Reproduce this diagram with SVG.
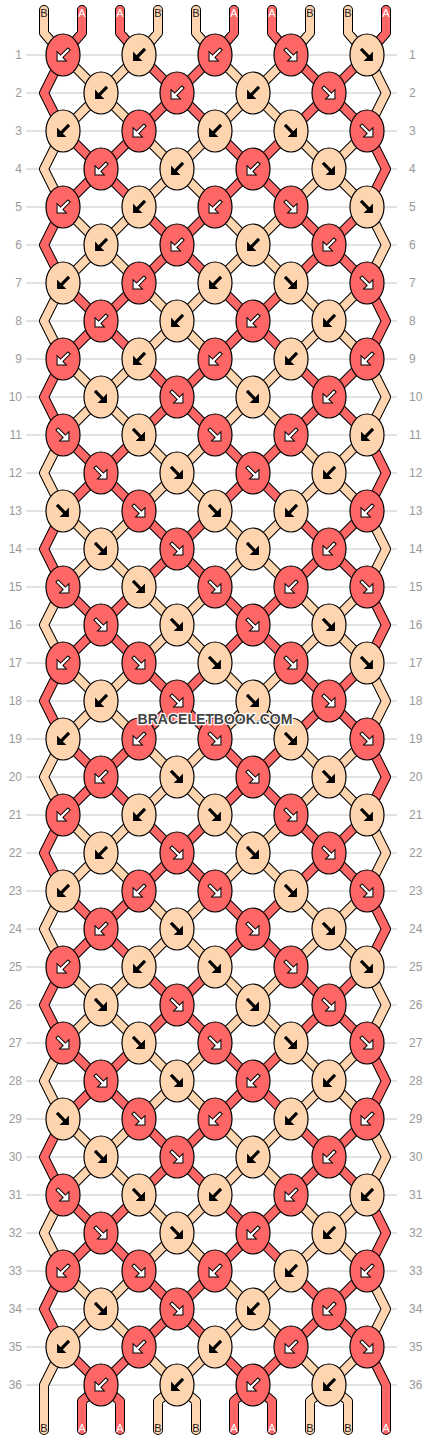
<svg xmlns="http://www.w3.org/2000/svg" xmlns:xlink="http://www.w3.org/1999/xlink" width="430" height="1440" viewBox="0 0 430 1440">
<style>
.gl{fill:none;stroke:#c4c4c4;stroke-width:1}
.rn{font-family:"Liberation Sans",Arial,sans-serif;font-size:12px;fill:#9a9a9a}
.rl{text-anchor:end}
.o{fill:none;stroke:#000;stroke-width:10;stroke-linecap:round;stroke-linejoin:round}
.r{fill:none;stroke:#ff6666;stroke-width:8;stroke-linecap:round;stroke-linejoin:round}
.p{fill:none;stroke:#ffd5b0;stroke-width:8;stroke-linecap:round;stroke-linejoin:round}
.er{fill:#ff6666;stroke:#000;stroke-width:1.2}
.ep{fill:#ffd5b0;stroke:#000;stroke-width:1.2}
.aw{fill:#fff;stroke:#000;stroke-width:1}
.ab{fill:#000;stroke:none}
.sl{font-family:"Liberation Sans",Arial,sans-serif;font-size:11px;text-anchor:middle}
.sb{fill:#222}
.sa{fill:#fff}
.wm{font-family:"Liberation Sans",Arial,sans-serif;font-weight:bold;font-size:14px;text-anchor:middle;fill:#444;stroke:#fff;stroke-width:2.5;paint-order:stroke;stroke-linejoin:round}
</style>
<defs>
<polygon id="a" points="-1.6,-8.5 1.6,-8.5 1.6,1.8 6.6,1.8 0,8.4 -6.6,1.8 -1.6,1.8"/>
<g id="RL"><ellipse class="er" rx="17" ry="21"/><use xlink:href="#a" href="#a" class="aw" transform="rotate(45)"/></g>
<g id="RR"><ellipse class="er" rx="17" ry="21"/><use xlink:href="#a" href="#a" class="aw" transform="rotate(-45)"/></g>
<g id="PL"><ellipse class="ep" rx="17" ry="21"/><use xlink:href="#a" href="#a" class="ab" transform="rotate(45)"/></g>
<g id="PR"><ellipse class="ep" rx="17" ry="21"/><use xlink:href="#a" href="#a" class="ab" transform="rotate(-45)"/></g>
<path id="zA" d="M63,0L44,38L63,76M139,0L177,38L139,76M215,0L177,38L215,76M291,0L329,38L291,76M367,0L329,38L367,76"/>
<path id="zB" d="M63,0L101,38L63,76M139,0L101,38L139,76M215,0L253,38L215,76M291,0L253,38L291,76M367,0L386,38L367,76"/>
<g id="b1"><use href="#zA" class="o"/><use href="#zB" class="o"/><use href="#zA" class="r"/><use href="#zB" class="p"/></g>
<g id="b3"><use href="#zA" class="o"/><use href="#zB" class="o"/><use href="#zA" class="p"/><use href="#zB" class="r"/></g>
</defs>
<rect width="430" height="1440" fill="#fff"/>
<g id="grid">
<path class="gl" d="M26,55H397M26,93H397M26,131H397M26,169H397M26,207H397M26,245H397M26,283H397M26,321H397M26,359H397M26,397H397M26,435H397M26,473H397M26,511H397M26,549H397M26,587H397M26,625H397M26,663H397M26,701H397M26,739H397M26,777H397M26,815H397M26,853H397M26,891H397M26,929H397M26,967H397M26,1005H397M26,1043H397M26,1081H397M26,1119H397M26,1157H397M26,1195H397M26,1233H397M26,1271H397M26,1309H397M26,1347H397M26,1385H397"/>
<g class="rn">
<text class="rl" x="22" y="59">1</text><text x="409" y="59">1</text>
<text class="rl" x="22" y="97">2</text><text x="409" y="97">2</text>
<text class="rl" x="22" y="135">3</text><text x="409" y="135">3</text>
<text class="rl" x="22" y="173">4</text><text x="409" y="173">4</text>
<text class="rl" x="22" y="211">5</text><text x="409" y="211">5</text>
<text class="rl" x="22" y="249">6</text><text x="409" y="249">6</text>
<text class="rl" x="22" y="287">7</text><text x="409" y="287">7</text>
<text class="rl" x="22" y="325">8</text><text x="409" y="325">8</text>
<text class="rl" x="22" y="363">9</text><text x="409" y="363">9</text>
<text class="rl" x="22" y="401">10</text><text x="409" y="401">10</text>
<text class="rl" x="22" y="439">11</text><text x="409" y="439">11</text>
<text class="rl" x="22" y="477">12</text><text x="409" y="477">12</text>
<text class="rl" x="22" y="515">13</text><text x="409" y="515">13</text>
<text class="rl" x="22" y="553">14</text><text x="409" y="553">14</text>
<text class="rl" x="22" y="591">15</text><text x="409" y="591">15</text>
<text class="rl" x="22" y="629">16</text><text x="409" y="629">16</text>
<text class="rl" x="22" y="667">17</text><text x="409" y="667">17</text>
<text class="rl" x="22" y="705">18</text><text x="409" y="705">18</text>
<text class="rl" x="22" y="743">19</text><text x="409" y="743">19</text>
<text class="rl" x="22" y="781">20</text><text x="409" y="781">20</text>
<text class="rl" x="22" y="819">21</text><text x="409" y="819">21</text>
<text class="rl" x="22" y="857">22</text><text x="409" y="857">22</text>
<text class="rl" x="22" y="895">23</text><text x="409" y="895">23</text>
<text class="rl" x="22" y="933">24</text><text x="409" y="933">24</text>
<text class="rl" x="22" y="971">25</text><text x="409" y="971">25</text>
<text class="rl" x="22" y="1009">26</text><text x="409" y="1009">26</text>
<text class="rl" x="22" y="1047">27</text><text x="409" y="1047">27</text>
<text class="rl" x="22" y="1085">28</text><text x="409" y="1085">28</text>
<text class="rl" x="22" y="1123">29</text><text x="409" y="1123">29</text>
<text class="rl" x="22" y="1161">30</text><text x="409" y="1161">30</text>
<text class="rl" x="22" y="1199">31</text><text x="409" y="1199">31</text>
<text class="rl" x="22" y="1237">32</text><text x="409" y="1237">32</text>
<text class="rl" x="22" y="1275">33</text><text x="409" y="1275">33</text>
<text class="rl" x="22" y="1313">34</text><text x="409" y="1313">34</text>
<text class="rl" x="22" y="1351">35</text><text x="409" y="1351">35</text>
<text class="rl" x="22" y="1389">36</text><text x="409" y="1389">36</text>
</g>
</g>
<g id="connectors">
<path class="o" d="M44,10V33L63,55M82,10V33L63,55M120,10V33L139,55M158,10V33L139,55M196,10V33L215,55M234,10V33L215,55M272,10V33L291,55M310,10V33L291,55M348,10V33L367,55M386,10V33L367,55"/>
<path class="p" d="M44,10V33L63,55M158,10V33L139,55M196,10V33L215,55M310,10V33L291,55M348,10V33L367,55"/>
<path class="r" d="M82,10V33L63,55M120,10V33L139,55M234,10V33L215,55M272,10V33L291,55M386,10V33L367,55"/>
<use href="#b1" y="55"/><use href="#b3" y="131"/>
<use href="#b1" y="207"/><use href="#b3" y="283"/>
<use href="#b1" y="359"/><use href="#b3" y="435"/>
<use href="#b1" y="511"/><use href="#b3" y="587"/>
<use href="#b1" y="663"/><use href="#b3" y="739"/>
<use href="#b1" y="815"/><use href="#b3" y="891"/>
<use href="#b1" y="967"/><use href="#b3" y="1043"/>
<use href="#b1" y="1119"/><use href="#b3" y="1195"/>
<use href="#b1" y="1271"/>
<path class="o" d="M63,1347L44,1385V1430M63,1347L101,1385L82,1401V1430M139,1347L101,1385L120,1401V1430M139,1347L177,1385L158,1401V1430M215,1347L177,1385L196,1401V1430M215,1347L253,1385L234,1401V1430M291,1347L253,1385L272,1401V1430M291,1347L329,1385L310,1401V1430M367,1347L329,1385L348,1401V1430M367,1347L386,1385V1430"/>
<path class="p" d="M63,1347L44,1385V1430M139,1347L177,1385L158,1401V1430M215,1347L177,1385L196,1401V1430M291,1347L329,1385L310,1401V1430M367,1347L329,1385L348,1401V1430"/>
<path class="r" d="M63,1347L101,1385L82,1401V1430M139,1347L101,1385L120,1401V1430M215,1347L253,1385L234,1401V1430M291,1347L253,1385L272,1401V1430M367,1347L386,1385V1430"/>
</g>
<g id="string-labels" class="sl">
<text class="sb" x="44" y="17">B</text><text class="sa" x="82" y="17">A</text><text class="sa" x="120" y="17">A</text><text class="sb" x="158" y="17">B</text><text class="sb" x="196" y="17">B</text><text class="sa" x="234" y="17">A</text><text class="sa" x="272" y="17">A</text><text class="sb" x="310" y="17">B</text><text class="sb" x="348" y="17">B</text><text class="sa" x="386" y="17">A</text>
<text class="sb" x="44" y="1432">B</text><text class="sa" x="82" y="1432">A</text><text class="sa" x="120" y="1432">A</text><text class="sb" x="158" y="1432">B</text><text class="sb" x="196" y="1432">B</text><text class="sa" x="234" y="1432">A</text><text class="sa" x="272" y="1432">A</text><text class="sb" x="310" y="1432">B</text><text class="sb" x="348" y="1432">B</text><text class="sa" x="386" y="1432">A</text>
</g>
<g id="nodes">
<g id="n1-1"><use href="#RL" x="63" y="55"/></g><g id="n1-2"><use href="#PL" x="139" y="55"/></g><g id="n1-3"><use href="#RL" x="215" y="55"/></g><g id="n1-4"><use href="#RR" x="291" y="55"/></g><g id="n1-5"><use href="#PR" x="367" y="55"/></g>
<g id="n2-1"><use href="#PL" x="101" y="93"/></g><g id="n2-2"><use href="#RL" x="177" y="93"/></g><g id="n2-3"><use href="#PL" x="253" y="93"/></g><g id="n2-4"><use href="#RR" x="329" y="93"/></g>
<g id="n3-1"><use href="#PL" x="63" y="131"/></g><g id="n3-2"><use href="#RL" x="139" y="131"/></g><g id="n3-3"><use href="#PL" x="215" y="131"/></g><g id="n3-4"><use href="#PR" x="291" y="131"/></g><g id="n3-5"><use href="#RR" x="367" y="131"/></g>
<g id="n4-1"><use href="#RL" x="101" y="169"/></g><g id="n4-2"><use href="#PL" x="177" y="169"/></g><g id="n4-3"><use href="#RL" x="253" y="169"/></g><g id="n4-4"><use href="#PR" x="329" y="169"/></g>
<g id="n5-1"><use href="#RL" x="63" y="207"/></g><g id="n5-2"><use href="#PL" x="139" y="207"/></g><g id="n5-3"><use href="#RL" x="215" y="207"/></g><g id="n5-4"><use href="#RR" x="291" y="207"/></g><g id="n5-5"><use href="#PR" x="367" y="207"/></g>
<g id="n6-1"><use href="#PL" x="101" y="245"/></g><g id="n6-2"><use href="#RL" x="177" y="245"/></g><g id="n6-3"><use href="#PL" x="253" y="245"/></g><g id="n6-4"><use href="#RL" x="329" y="245"/></g>
<g id="n7-1"><use href="#PL" x="63" y="283"/></g><g id="n7-2"><use href="#RL" x="139" y="283"/></g><g id="n7-3"><use href="#PL" x="215" y="283"/></g><g id="n7-4"><use href="#PR" x="291" y="283"/></g><g id="n7-5"><use href="#RR" x="367" y="283"/></g>
<g id="n8-1"><use href="#RL" x="101" y="321"/></g><g id="n8-2"><use href="#PL" x="177" y="321"/></g><g id="n8-3"><use href="#RL" x="253" y="321"/></g><g id="n8-4"><use href="#PL" x="329" y="321"/></g>
<g id="n9-1"><use href="#RL" x="63" y="359"/></g><g id="n9-2"><use href="#PL" x="139" y="359"/></g><g id="n9-3"><use href="#RL" x="215" y="359"/></g><g id="n9-4"><use href="#PL" x="291" y="359"/></g><g id="n9-5"><use href="#RL" x="367" y="359"/></g>
<g id="n10-1"><use href="#PR" x="101" y="397"/></g><g id="n10-2"><use href="#RR" x="177" y="397"/></g><g id="n10-3"><use href="#PR" x="253" y="397"/></g><g id="n10-4"><use href="#RL" x="329" y="397"/></g>
<g id="n11-1"><use href="#RR" x="63" y="435"/></g><g id="n11-2"><use href="#PR" x="139" y="435"/></g><g id="n11-3"><use href="#RR" x="215" y="435"/></g><g id="n11-4"><use href="#RL" x="291" y="435"/></g><g id="n11-5"><use href="#PL" x="367" y="435"/></g>
<g id="n12-1"><use href="#RR" x="101" y="473"/></g><g id="n12-2"><use href="#PR" x="177" y="473"/></g><g id="n12-3"><use href="#RR" x="253" y="473"/></g><g id="n12-4"><use href="#PL" x="329" y="473"/></g>
<g id="n13-1"><use href="#PR" x="63" y="511"/></g><g id="n13-2"><use href="#RR" x="139" y="511"/></g><g id="n13-3"><use href="#PR" x="215" y="511"/></g><g id="n13-4"><use href="#PL" x="291" y="511"/></g><g id="n13-5"><use href="#RL" x="367" y="511"/></g>
<g id="n14-1"><use href="#PR" x="101" y="549"/></g><g id="n14-2"><use href="#RR" x="177" y="549"/></g><g id="n14-3"><use href="#PR" x="253" y="549"/></g><g id="n14-4"><use href="#RL" x="329" y="549"/></g>
<g id="n15-1"><use href="#RR" x="63" y="587"/></g><g id="n15-2"><use href="#PR" x="139" y="587"/></g><g id="n15-3"><use href="#RR" x="215" y="587"/></g><g id="n15-4"><use href="#RL" x="291" y="587"/></g><g id="n15-5"><use href="#RR" x="367" y="587"/></g>
<g id="n16-1"><use href="#RR" x="101" y="625"/></g><g id="n16-2"><use href="#PR" x="177" y="625"/></g><g id="n16-3"><use href="#RR" x="253" y="625"/></g><g id="n16-4"><use href="#PR" x="329" y="625"/></g>
<g id="n17-1"><use href="#RL" x="63" y="663"/></g><g id="n17-2"><use href="#RR" x="139" y="663"/></g><g id="n17-3"><use href="#PR" x="215" y="663"/></g><g id="n17-4"><use href="#RR" x="291" y="663"/></g><g id="n17-5"><use href="#PR" x="367" y="663"/></g>
<g id="n18-1"><use href="#PL" x="101" y="701"/></g><g id="n18-2"><use href="#RR" x="177" y="701"/></g><g id="n18-3"><use href="#PR" x="253" y="701"/></g><g id="n18-4"><use href="#RR" x="329" y="701"/></g>
<g id="n19-1"><use href="#PL" x="63" y="739"/></g><g id="n19-2"><use href="#RL" x="139" y="739"/></g><g id="n19-3"><use href="#RR" x="215" y="739"/></g><g id="n19-4"><use href="#PR" x="291" y="739"/></g><g id="n19-5"><use href="#RR" x="367" y="739"/></g>
<g id="n20-1"><use href="#RL" x="101" y="777"/></g><g id="n20-2"><use href="#PR" x="177" y="777"/></g><g id="n20-3"><use href="#RR" x="253" y="777"/></g><g id="n20-4"><use href="#PR" x="329" y="777"/></g>
<g id="n21-1"><use href="#RL" x="63" y="815"/></g><g id="n21-2"><use href="#PL" x="139" y="815"/></g><g id="n21-3"><use href="#PR" x="215" y="815"/></g><g id="n21-4"><use href="#RR" x="291" y="815"/></g><g id="n21-5"><use href="#PR" x="367" y="815"/></g>
<g id="n22-1"><use href="#PL" x="101" y="853"/></g><g id="n22-2"><use href="#RR" x="177" y="853"/></g><g id="n22-3"><use href="#PR" x="253" y="853"/></g><g id="n22-4"><use href="#RR" x="329" y="853"/></g>
<g id="n23-1"><use href="#PL" x="63" y="891"/></g><g id="n23-2"><use href="#RL" x="139" y="891"/></g><g id="n23-3"><use href="#RR" x="215" y="891"/></g><g id="n23-4"><use href="#PR" x="291" y="891"/></g><g id="n23-5"><use href="#RR" x="367" y="891"/></g>
<g id="n24-1"><use href="#RL" x="101" y="929"/></g><g id="n24-2"><use href="#PR" x="177" y="929"/></g><g id="n24-3"><use href="#RR" x="253" y="929"/></g><g id="n24-4"><use href="#PR" x="329" y="929"/></g>
<g id="n25-1"><use href="#RL" x="63" y="967"/></g><g id="n25-2"><use href="#PL" x="139" y="967"/></g><g id="n25-3"><use href="#PR" x="215" y="967"/></g><g id="n25-4"><use href="#RR" x="291" y="967"/></g><g id="n25-5"><use href="#PR" x="367" y="967"/></g>
<g id="n26-1"><use href="#PR" x="101" y="1005"/></g><g id="n26-2"><use href="#RR" x="177" y="1005"/></g><g id="n26-3"><use href="#PR" x="253" y="1005"/></g><g id="n26-4"><use href="#RR" x="329" y="1005"/></g>
<g id="n27-1"><use href="#RR" x="63" y="1043"/></g><g id="n27-2"><use href="#PR" x="139" y="1043"/></g><g id="n27-3"><use href="#RR" x="215" y="1043"/></g><g id="n27-4"><use href="#PR" x="291" y="1043"/></g><g id="n27-5"><use href="#RR" x="367" y="1043"/></g>
<g id="n28-1"><use href="#RR" x="101" y="1081"/></g><g id="n28-2"><use href="#PR" x="177" y="1081"/></g><g id="n28-3"><use href="#RL" x="253" y="1081"/></g><g id="n28-4"><use href="#PL" x="329" y="1081"/></g>
<g id="n29-1"><use href="#PR" x="63" y="1119"/></g><g id="n29-2"><use href="#RR" x="139" y="1119"/></g><g id="n29-3"><use href="#RL" x="215" y="1119"/></g><g id="n29-4"><use href="#PL" x="291" y="1119"/></g><g id="n29-5"><use href="#RL" x="367" y="1119"/></g>
<g id="n30-1"><use href="#PR" x="101" y="1157"/></g><g id="n30-2"><use href="#RR" x="177" y="1157"/></g><g id="n30-3"><use href="#PL" x="253" y="1157"/></g><g id="n30-4"><use href="#RL" x="329" y="1157"/></g>
<g id="n31-1"><use href="#RR" x="63" y="1195"/></g><g id="n31-2"><use href="#PR" x="139" y="1195"/></g><g id="n31-3"><use href="#PL" x="215" y="1195"/></g><g id="n31-4"><use href="#RL" x="291" y="1195"/></g><g id="n31-5"><use href="#PL" x="367" y="1195"/></g>
<g id="n32-1"><use href="#RR" x="101" y="1233"/></g><g id="n32-2"><use href="#PR" x="177" y="1233"/></g><g id="n32-3"><use href="#RL" x="253" y="1233"/></g><g id="n32-4"><use href="#PL" x="329" y="1233"/></g>
<g id="n33-1"><use href="#RL" x="63" y="1271"/></g><g id="n33-2"><use href="#RR" x="139" y="1271"/></g><g id="n33-3"><use href="#RL" x="215" y="1271"/></g><g id="n33-4"><use href="#PL" x="291" y="1271"/></g><g id="n33-5"><use href="#RL" x="367" y="1271"/></g>
<g id="n34-1"><use href="#PR" x="101" y="1309"/></g><g id="n34-2"><use href="#RR" x="177" y="1309"/></g><g id="n34-3"><use href="#PL" x="253" y="1309"/></g><g id="n34-4"><use href="#RL" x="329" y="1309"/></g>
<g id="n35-1"><use href="#PL" x="63" y="1347"/></g><g id="n35-2"><use href="#RL" x="139" y="1347"/></g><g id="n35-3"><use href="#PL" x="215" y="1347"/></g><g id="n35-4"><use href="#RL" x="291" y="1347"/></g><g id="n35-5"><use href="#RR" x="367" y="1347"/></g>
<g id="n36-1"><use href="#RL" x="101" y="1385"/></g><g id="n36-2"><use href="#PL" x="177" y="1385"/></g><g id="n36-3"><use href="#RL" x="253" y="1385"/></g><g id="n36-4"><use href="#PL" x="329" y="1385"/></g>
</g>
<text class="wm" x="215" y="724">BRACELETBOOK.COM</text>
</svg>
